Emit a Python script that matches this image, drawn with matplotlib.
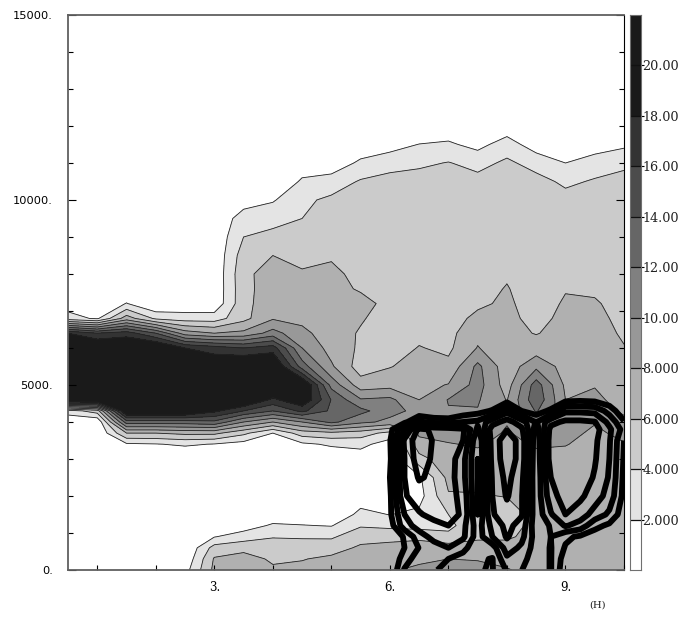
import numpy as np
import matplotlib
matplotlib.use('Agg')
import matplotlib.pyplot as plt
from matplotlib.colors import BoundaryNorm, ListedColormap

# grey field: one profile per half hour, values on the heights below
heights = [0, 300, 600, 900, 1200, 1500, 2000, 2500, 3000, 3400, 3700, 4000, 4300, 4600, 5000, 5500,
           6000, 6400, 6800, 7200, 7600, 8000, 8500, 9000, 9500, 10000, 10500, 11000, 11500, 12000, 15000]
times = [0.5, 1, 1.5, 2, 2.5, 3, 3.5, 4, 4.5, 5, 5.5, 6, 6.5, 7, 7.5, 8, 8.5, 9, 9.5, 10]

q05 = [0, 0, 0, 0, 0, 0, 0, 0, 0, 0, 0, .3, 3, 21.5, 21, 21, 21, 18, 2.8, 1, 0, 0, 0, 0, 0, 0, 0, 0, 0, 0, 0]
q10 = [0, 0, 0, 0, 0, 0, 0, 0, 0, 0, 0, .2, 5, 21.5, 21, 21, 21, 16, 1.7, 0, 0, 0, 0, 0, 0, 0, 0, 0, 0, 0, 0]
q15 = [0, 0, 0, 0, 0, 0, 0, 0, 0, 1.7, 6, 13, 21, 21, 21, 21, 21, 17, 7, 2.1, 0, 0, 0, 0, 0, 0, 0, 0, 0, 0, 0]
q20 = [0, 0, 0, 0, 0, 0, 0, 0, 0, 1.9, 6, 13, 21, 21, 21, 21, 21, 14, 3.6, 0, 0, 0, 0, 0, 0, 0, 0, 0, 0, 0, 0]
q25 = [1.2, .4, 0, 0, 0, 0, 0, 0, 0, 2.3, 6.5, 13, 21, 21, 21, 21, 18, 9, 3, .5, 0, 0, 0, 0, 0, 0, 0, 0, 0, 0, 0]
q30 = [6.5, 6.2, 4.8, 1.9, .3, 0, 0, 0, .3, 1.9, 6.5, 13.5, 18.5, 21, 21, 20, 17, 8, 3, .5, .4, .4, .4, .4, .3, 0, 0, 0, 0, 0, 0]
q35 = [7.5, 6.8, 5.4, 3, 1, 0, 0, 0, .5, 1.2, 4.5, 10, 16, 21, 21, 21, 16, 8.5, 5.4, 5.4, 5.4, 5.5, 5, 4, 3, 1, 0, 0, 0, 0, 0]
q40 = [6.3, 5.7, 4.8, 3.9, 2.3, .7, 0, 0, 0, 1, 2, 8, 14, 17.5, 21, 21, 17, 10.8, 7.8, 7.2, 7, 6.9, 6, 4.5, 3.4, 1.8, 0, 0, 0, 0, 0]
q45 = [6.5, 5.9, 4.9, 3.8, 2.1, .6, 0, 0, 0, 1.6, 5, 10, 16.5, 20, 21, 13, 10, 8.5, 7.5, 7, 6.7, 6.3, 5.2, 4.9, 4, 3.6, 2.3, .8, 0, 0, 0]
q50 = [7, 6.4, 5.2, 3.7, 1.9, .5, 0, 0, .4, 2.3, 5.5, 12.5, 13.6, 13.9, 11.3, 8.3, 7.2, 7, 6.9, 6.9, 6.9, 6.4, 5.8, 5.4, 4.9, 4.4, 2.9, .7, 0, 0, 0]
q55 = [7.4, 7, 6.3, 5.3, 3.8, 2.5, 1, .3, .8, 2.6, 5, 10.5, 12.6, 10.2, 6.9, 5, 5.7, 5.8, 6.2, 6.9, 5.7, 5.5, 5.3, 5.2, 5, 4.9, 4.2, 2.4, .6, 0, 0]
q60 = [7.8, 7.3, 6.6, 5.4, 3.5, 1.95, .6, .2, .4, 1, 3.3, 9.5, 10.7, 10.5, 7.3, 5.9, 5.1, 5, 5.1, 5.2, 5.2, 5.2, 5.2, 5.2, 5.1, 5, 4.9, 3, 1.3, 0, 0]
q65 = [8.4, 7.6, 6.8, 5.6, 3.2, 2.5, 1.2, 1.6, 5.3, 7.2, 8.4, 9.3, 9.4, 8, 7.4, 6.8, 6.1, 5.5, 5.3, 5.2, 5.2, 5.2, 5.2, 5.2, 5.1, 5.1, 4.9, 3.6, 2.05, .3, 0]
q70 = [8.6, 8, 7, 4.5, 3.5, 4, 5.8, 6.6, 7.2, 7.9, 8.6, 9.3, 9.9, 10.1, 8.1, 6.5, 5.6, 5.4, 5.3, 5.3, 5.3, 5.3, 5.3, 5.2, 5.2, 5.2, 5.2, 4.1, 2.3, .7, 0]
q75 = [8.5, 7.9, 6.9, 5.6, 5.4, 5.5, 5.9, 6.5, 7.4, 8.2, 8.8, 9.4, 9.9, 10.2, 10.8, 10.5, 8.1, 7.5, 6.4, 5.7, 5.4, 5.3, 5.2, 5.2, 5.1, 5, 4.7, 3.3, 1.4, 0, 0]
q80 = [8.1, 7.6, 6.7, 5.7, 5.3, 5.4, 6.05, 6.6, 7.1, 7.5, 7.8, 8.1, 8.2, 7.9, 7.1, 6.8, 6.7, 6.6, 6.5, 6.3, 6.1, 5.8, 5.5, 5.3, 5.2, 5.1, 5, 4.4, 2.9, .8, 0]
q85 = [7.5, 7.2, 6.9, 6.7, 6.5, 6.4, 6.4, 6.8, 7.5, 8.2, 9, 9.9, 12.2, 13.5, 13, 9.5, 6.9, 5.9, 5.4, 5.2, 5.1, 5.1, 5, 5, 5, 5, 4.7, 3.2, 1, 0, 0]
q90 = [7, 6.8, 6.6, 6.5, 6.5, 6.5, 6.7, 6.9, 7.3, 8.1, 8.5, 8.7, 8.8, 8, 7.6, 7.2, 6.9, 6.7, 6.5, 6.2, 5.9, 5.6, 5.3, 5.2, 5.1, 4.7, 3.6, 2, .6, 0, 0]
q95 = [6.8, 6.6, 6.5, 6.5, 6.5, 6.5, 6.5, 6.6, 6.9, 7.3, 7.7, 8.1, 8.6, 8.4, 7.9, 7.5, 7.1, 6.9, 6.6, 6.2, 5.7, 5.4, 5.2, 5.1, 5, 5, 4.2, 3, .9, 0, 0]
q100 = [6.7, 6.6, 6.6, 6.6, 6.6, 6.6, 6.7, 6.8, 7.2, 7.9, 8.4, 8.3, 7.8, 7.3, 6.9, 6.5, 6.1, 5.7, 5.4, 5.3, 5.3, 5.2, 5.1, 5, 5, 4.8, 4.6, 3.6, 1.6, 0, 0]

# black field: one row per height, on a quarter hour grid
w_times = [5.75, 6, 6.25, 6.5, 6.75, 7, 7.25, 7.5, 7.75, 8, 8.25, 8.5, 8.75, 9, 9.25, 9.5, 9.75, 10]
w_heights = [0, 300, 600, 900, 1200, 1500, 2000, 2500, 3000, 3500, 3800, 4000, 4300, 4600, 5000]

w_0000 = [0, 0, 2.1, 2.6, 2.1, 1.7, 1.5, 1.05, .95, 2.1, 2.02, 1.5, 2.05, .3, 0, 0, 0, 0]
w_0300 = [0, 0, 1.5, 2.6, 2.4, 2, 1.6, 1.15, .95, 2.8, 2.3, 1.5, 2.05, .5, .2, 0, 0, 0]
w_0600 = [0, 0, 1, 2.05, 2.6, 3, 2.3, 1.3, 1.5, 3.5, 2.8, 1.5, 2.05, .9, .4, .1, 0, 0]
w_0900 = [0, .2, 1.1, 2.6, 3.3, 3.8, 3.2, 1.5, 3, 4.1, 3.3, 1.5, 2, 1.2, .85, .5, .3, 0]
w_1200 = [0, .5, 2.6, 3.4, 3.7, 4, 3.3, 1.5, 3.3, 4.3, 3.6, 1.3, 2.1, 3.1, 2.6, 1.3, .8, .2]
w_1500 = [0, .8, 3, 3.9, 4.3, 4.5, 3.8, 1, 3.9, 4.6, 4.1, 1.3, 2.9, 4, 3.5, 2.6, 1.8, .4]
w_2000 = [0, .8, 3.9, 4.5, 4.6, 4.5, 3.6, 1, 4, 5.1, 4.1, 1.3, 3.6, 4.5, 4.2, 3.5, 2.6, .7]
w_2500 = [0, 1, 4, 5.1, 4.8, 4.5, 3.3, 1, 4.1, 5.3, 4.3, 1.2, 4, 4.7, 4.6, 3.9, 2.9, .8]
w_3000 = [0, .8, 4, 5.6, 4.8, 4.6, 3.3, 1, 4.3, 5.6, 4.6, 1.2, 4.5, 4.8, 4.8, 4.1, 3, .9]
w_3500 = [0, .9, 4.2, 5.7, 4.9, 4.7, 4, 1.1, 4.4, 5.6, 4.6, 1.3, 4.5, 4.8, 4.8, 4.2, 3.1, 1]
w_3800 = [0, .6, 3, 5.3, 4.8, 4.6, 4.2, 1.8, 4.5, 4.95, 4.2, 1.5, 4.3, 4.7, 4.7, 4.4, 3.2, 1.6]
w_4000 = [0, .2, .7, 2.2, 1.6, 1.5, 2, 2.2, 3.6, 4.4, 3.5, 1.9, 3.7, 4.2, 4.2, 4.05, 2.7, 1.1]
w_4300 = [0, 0, 0, 0, 0, 0, .3, .6, 1.1, 2.7, 1, .5, 1.2, 2.8, 2.8, 2.7, 1.6, .2]
w_4600 = [0, 0, 0, 0, 0, 0, 0, 0, 0, .5, 0, 0, 0, .7, .8, .7, .3, 0]
w_5000 = [0, 0, 0, 0, 0, 0, 0, 0, 0, 0, 0, 0, 0, 0, 0, 0, 0, 0]

levels = [0, 2, 4, 6, 8, 10, 12, 14, 16, 18, 20, 22]
greys = ['#ffffff', '#e4e4e4', '#cbcbcb', '#b0b0b0', '#989898', '#808080',
         '#666666', '#4c4c4c', '#333333', '#1a1a1a', '#1a1a1a']
bar_labels = ['2.000', '4.000', '6.000', '8.000', '10.00', '12.00', '14.00', '16.00', '18.00', '20.00']
w_levels = [1, 2, 3, 4, 5]

q = np.array([q05, q10, q15, q20, q25, q30, q35, q40, q45, q50, q55, q60, q65, q70, q75, q80, q85, q90, q95, q100]).T
w = np.array([w_0000, w_0300, w_0600, w_0900, w_1200, w_1500, w_2000, w_2500, w_3000, w_3500, w_3800,
              w_4000, w_4300, w_4600, w_5000])

cmap = ListedColormap(greys)
norm = BoundaryNorm(levels, cmap.N)

W, H = 685, 617
fig = plt.figure(figsize=(W / 100, H / 100), dpi=100)
ax = fig.add_axes([68 / W, 1 - 570 / H, 556 / W, 555 / H])
cax = fig.add_axes([630 / W, 1 - 570 / H, 11 / W, 555 / H])

ax.contourf(times, heights, q, levels=levels, cmap=cmap, norm=norm)
ax.contour(times, heights, q, levels=levels[1:10], colors='#222222', linewidths=0.6)
ax.contour(w_times, w_heights, w, levels=w_levels, colors='black', linewidths=4.2)

ax.set_xlim(0.5, 10)
ax.set_ylim(0, 15000)
ax.set_xticks([3, 6, 9])
ax.set_xticklabels(['3.', '6.', '9.'], family='DejaVu Serif', fontsize=8.5)
ax.set_xticks(range(1, 11), minor=True)
ax.set_yticks([0, 5000, 10000, 15000])
ax.set_yticklabels(['0.', '5000.', '10000.', '15000.'], family='DejaVu Sans', fontsize=8.2)
ax.set_yticks(range(0, 15001, 1000), minor=True)
ax.tick_params(axis='both', which='both', direction='in', color='black', width=0.8)
ax.tick_params(axis='y', which='major', length=5.5, pad=11, left=True, right=True)
ax.tick_params(axis='y', which='minor', length=3.8, left=True, right=True)
ax.tick_params(axis='x', which='both', length=3.8, pad=8)

for side in ['left', 'top', 'bottom']:
    ax.spines[side].set_color('#606060')
    ax.spines[side].set_linewidth(1.3)
ax.spines['right'].set_color('black')
ax.spines['right'].set_linewidth(0.8)

fig.text(598 / W, 1 - 605 / H, '(H)', family='DejaVu Serif', fontsize=7.2, ha='center', va='center', color='#222222')

# colour bar
cax.pcolormesh([0, 1], levels, np.array(levels[:-1]).reshape(-1, 1) + 1, cmap=cmap, norm=norm)
cax.hlines(levels[1:-1], 0, 1, colors='#111111', linewidth=0.9)
cax.set_xlim(0, 1)
cax.set_ylim(0, 22)
cax.set_xticks([])
cax.yaxis.tick_right()
cax.set_yticks(levels[1:-1])
cax.set_yticklabels(bar_labels, family='DejaVu Serif', fontsize=9.2, color='#222222')
cax.tick_params(axis='y', length=2, width=0.8, pad=-1, color='black')
for side in cax.spines:
    cax.spines[side].set_color('#707070')
    cax.spines[side].set_linewidth(0.8)

fig.savefig('out.png', dpi=100)
